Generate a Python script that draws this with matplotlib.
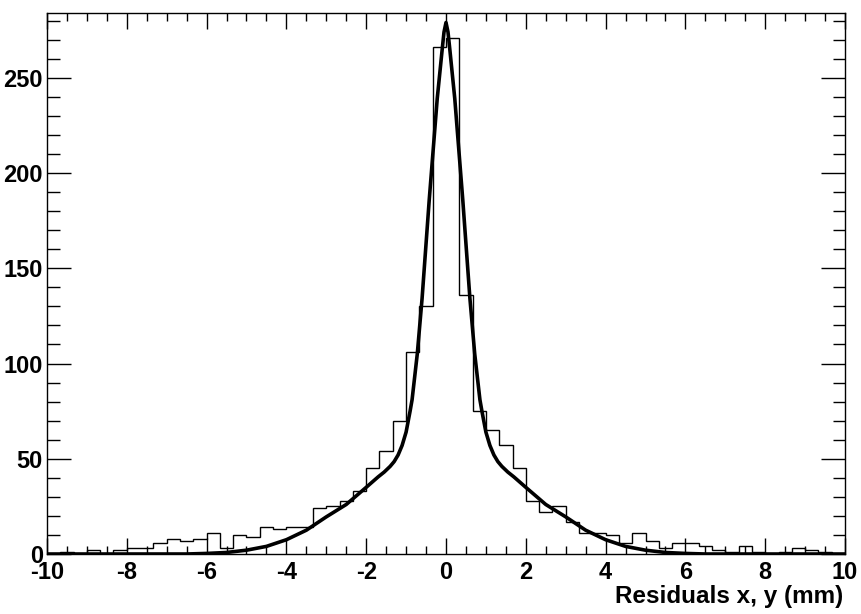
import numpy as np
import matplotlib.pyplot as plt
from matplotlib.ticker import MultipleLocator

plt.rcParams['font.family'] = ['Liberation Sans', 'DejaVu Sans']
plt.rcParams['axes.unicode_minus'] = False

# Residuals histogram: 60 bins of 1/3 mm between -10 and 10
x_lo, x_hi, n_bins = -10, 10, 60
counts = [0, 1, 0, 2, 0, 2, 3, 3, 6, 8,
          7, 8, 11, 3, 10, 9, 14, 13, 14, 14,
          24, 25, 28, 33, 45, 54, 70, 106, 130, 266,
          271, 136, 75, 65, 57, 45, 28, 22, 25, 17,
          11, 11, 10, 6, 11, 7, 3, 6, 6, 4,
          2, 1, 4, 1, 0, 1, 3, 2, 1, 0]

# Fit curve
fit_x = [-10, -6.5, -6, -5.5, -5, -4.5, -4, -3.5, -3, -2.5, -2, -1.7, -1.55,
         -1.4, -1.3, -1.2, -1.1, -1.0, -0.9, -0.85, -0.72, -0.6, -0.42, -0.22,
         -0.1, -0.05, 0, 0.05, 0.1, 0.22, 0.42, 0.6, 0.72, 0.85, 0.9, 1.0, 1.1,
         1.2, 1.3, 1.4, 1.55, 1.7, 2, 2.5, 3, 3.5, 4, 4.5, 5, 5.5, 6, 6.5, 10]
fit_y = [0, 0, 0.3, 0.8, 2, 4, 7.5, 12.5, 19.5, 26, 35, 40.5, 43,
         46, 48.5, 52, 57, 64, 75, 81, 105, 134, 186, 239,
         264, 274, 279, 274, 264, 239, 186, 134, 105, 81, 75, 64, 57,
         52, 48.5, 46, 43, 40.5, 35, 26, 19.5, 12.5, 7.5, 4, 2, 0.8, 0.3, 0, 0]

edges = np.linspace(x_lo, x_hi, n_bins + 1)

fig = plt.figure(figsize=(8.61, 6.14), dpi=100)
ax = fig.add_axes([47 / 861, 60 / 614, 798 / 861, 541 / 614])

ax.stairs(counts, edges, color='black', linewidth=1.0)
ax.plot(fit_x, fit_y, color='black', linewidth=2.6, solid_capstyle='round')

ax.set_xlim(x_lo, x_hi)
ax.set_ylim(0, 284)
ax.xaxis.set_major_locator(MultipleLocator(2))
ax.xaxis.set_minor_locator(MultipleLocator(0.5))
ax.yaxis.set_major_locator(MultipleLocator(50))
ax.yaxis.set_minor_locator(MultipleLocator(10))

for s in ax.spines.values():
    s.set_linewidth(1.0)

ax.tick_params(which='both', direction='in', top=True, right=True, width=1.0,
               labelsize=17)
ax.tick_params(axis='x', which='major', length=11.5, pad=5)
ax.tick_params(axis='x', which='minor', length=5.8)
ax.tick_params(axis='y', which='major', length=17, pad=3)
ax.tick_params(axis='y', which='minor', length=9)
for lab in ax.get_xticklabels() + ax.get_yticklabels():
    lab.set_fontweight('bold')

ax.set_xlabel('Residuals x, y (mm)', fontsize=17.5, fontweight='bold', loc='right')
ax.xaxis.set_label_coords(0.9975, -0.058)

fig.savefig('out.png', dpi=100)
